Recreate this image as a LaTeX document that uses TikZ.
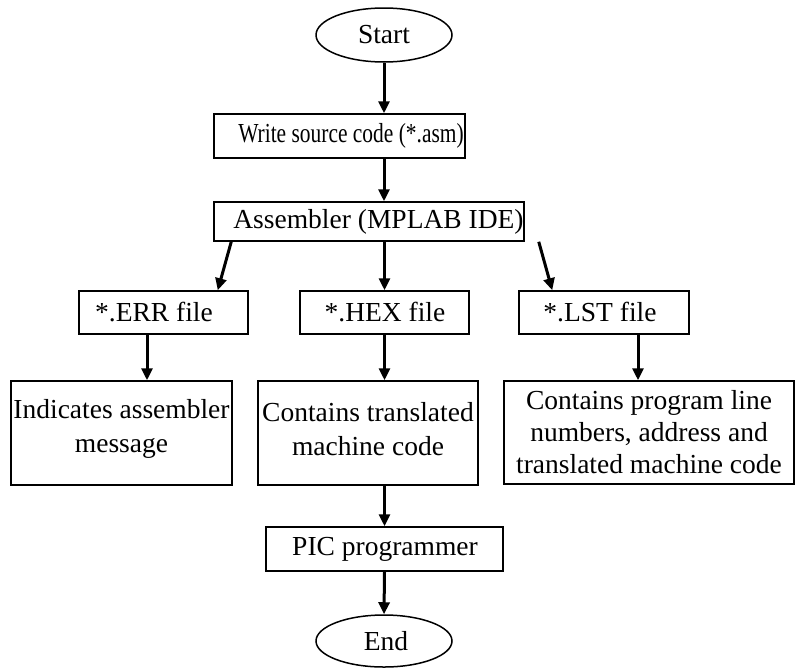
\documentclass[tikz,border=0pt]{standalone}
\usepackage{fontspec}
\setmainfont{Liberation Serif}
\usepackage{graphicx}
\usetikzlibrary{arrows.meta,calc,shapes.geometric}

\newcommand{\boxfont}{\fontsize{13.75}{16}\selectfont}

\tikzset{
  box/.style={draw, line width=0.75pt, rectangle, inner sep=0pt},
  term/.style={draw, line width=0.75pt, ellipse, inner sep=0pt},
  lbl/.style={inner sep=0pt, align=center, font=\boxfont},
  flow/.style={line width=1.5pt, -{Triangle[length=6pt,width=5.5pt]}},
}

\begin{document}
\begin{tikzpicture}[x=0.5pt,y=-0.5pt]
  \useasboundingbox (0,0) rectangle (796,669);

  % terminals
  \node[term, minimum width=68pt, minimum height=27pt] (start) at (384,35) {};
  \node[term, minimum width=68pt, minimum height=26pt] (end) at (384,641) {};

  % process boxes
  \node[box, minimum width=125.5pt, minimum height=22pt] (write) at (339.5,136) {};
  \node[box, minimum width=155pt, minimum height=19.5pt] (asm) at (369,221.5) {};
  \node[box, minimum width=84.5pt, minimum height=21.5pt] (err) at (163.5,312.5) {};
  \node[box, minimum width=84.5pt, minimum height=21.5pt] (hex) at (384.5,312.5) {};
  \node[box, minimum width=85pt, minimum height=21.5pt] (lst) at (604,312.5) {};
  \node[box, minimum width=110.5pt, minimum height=52pt] (ind) at (121.5,433) {};
  \node[box, minimum width=110pt, minimum height=52pt] (tra) at (368,433) {};
  \node[box, minimum width=145pt, minimum height=51.5pt] (prg) at (649,432.5) {};
  \node[box, minimum width=118.5pt, minimum height=22pt] (pic) at (384.5,549) {};

  % texts
  \node[lbl] (start-t) at (384,35) {Start};
  \node[lbl] (end-t) at (386,641) {End};
  \node[lbl] (write-t) at (351,136)
    {\scalebox{0.78}[1]{Write source code (*.asm)}};
  \node[lbl] (asm-t) at (378.5,221.5) {Assembler (MPLAB IDE)};
  \node[lbl] (err-t) at (154,312.5) {*.ERR file};
  \node[lbl] (hex-t) at (385,312.5) {*.HEX file};
  \node[lbl] (lst-t) at (600,312.5) {*.LST file};
  \node[lbl, font=\fontsize{13.75}{17}\selectfont] (ind-t) at (121.5,429) {Indicates assembler\\message};
  \node[lbl, font=\fontsize{13.75}{17}\selectfont] (tra-t) at (368,429) {Contains translated\\machine code};
  \node[lbl] (prg-t) at (649,432) {Contains program line\\numbers, address and\\translated machine code};
  \node[lbl] (pic-t) at (385,549) {PIC programmer};

  % connector end points
  \coordinate (a1) at ($(asm.south west)+(18,0)$);
  \coordinate (a2) at ($(err.north east)+(-31,0)$);
  \coordinate (a3) at ($(asm.south east)+(14,0)$);
  \coordinate (a4) at ($(lst.north west)+(34,0)$);
  \coordinate (e1) at ($(err.south)+(-16.5,0)$);
  \coordinate (l1) at ($(lst.south)+(34,0)$);

  % connectors
  \draw[flow] (start.south) -- (start.south |- write.north);
  \draw[flow] (start |- write.south) -- (start |- asm.north);
  \draw[flow] (a1) -- (a2);
  \draw[flow] (hex.north |- asm.south) -- (hex.north);
  \draw[flow] (a3) -- (a4);
  \draw[flow] (e1) -- (e1 |- ind.north);
  \draw[flow] (hex.south) -- (hex.south |- tra.north);
  \draw[flow] (l1) -- (l1 |- prg.north);
  \draw[flow] (pic.north |- tra.south) -- (pic.north);
  \draw[flow] (pic.south) -- (end.north);
\end{tikzpicture}
\end{document}
